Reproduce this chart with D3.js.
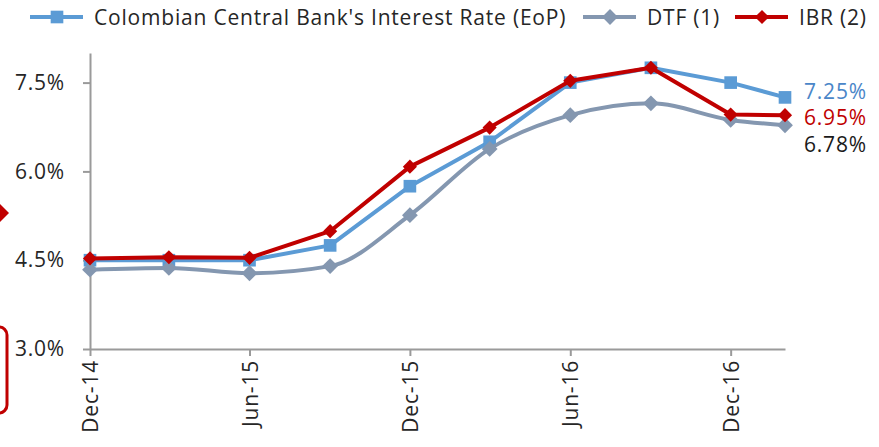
<!DOCTYPE html>
<html>
<head>
<meta charset="utf-8">
<script src="https://cdn.jsdelivr.net/npm/d3@7"></script>
<style>
  body { margin: 0; background: #fff; }
  svg { display: block; font-family: "Open Sans", sans-serif; }
</style>
</head>
<body>
<svg id="chart" width="879" height="447"></svg>
<script>
// Chart data (end of period, monthly date axis)
const months = ["2014-12", "2015-03", "2015-06", "2015-09", "2015-12", "2016-03", "2016-06", "2016-09", "2016-12", "2017-02"];
const cbRate = [4.5, 4.5, 4.5, 4.75, 5.75, 6.5, 7.5, 7.75, 7.5, 7.25];
const dtf = [4.34, 4.37, 4.28, 4.4, 5.26, 6.38, 6.95, 7.15, 6.87, 6.78];
const ibr = [4.53, 4.55, 4.54, 4.99, 6.08, 6.74, 7.53, 7.75, 6.96, 6.95];
const yTicks = [3.0, 4.5, 6.0, 7.5];
const xTickMonths = ["2014-12", "2015-06", "2015-12", "2016-06", "2016-12"];
const xTickLabels = ["Dec-14", "Jun-15", "Dec-15", "Jun-16", "Dec-16"];
const endLabels = ["7.25%", "6.78%", "6.95%"];

const parseMonth = d3.timeParse("%Y-%m");
const svg = d3.select("#chart");
const fontSize = 21;
const spacing = 0.8;
const textColor = "#262626";

const series = [
  { name: "Colombian Central Bank's Interest Rate (EoP)", values: cbRate, color: "#5b9bd5", marker: "square", size: 160, curve: d3.curveLinear, label: endLabels[0], labelColor: "#4a86c8", dy: -6 },
  { name: "DTF (1)", values: dtf, color: "#8497b0", marker: "diamond", size: 125, curve: d3.curveMonotoneX, label: endLabels[1], labelColor: "#1a1a1a", dy: 19 },
  { name: "IBR (2)", values: ibr, color: "#c00000", marker: "diamond", size: 100, curve: d3.curveLinear, label: endLabels[2], labelColor: "#c00000", dy: 2 },
];

// Scales
const x = d3
  .scaleTime()
  .domain([parseMonth(months[0]), parseMonth(months[months.length - 1])])
  .range([90, 785]);
const y = d3.scaleLinear().domain([3, 8]).range([349, 53]);

// Axes
const xAxis = svg
  .append("g")
  .attr("transform", "translate(0,349)")
  .call(
    d3
      .axisBottom(x)
      .tickValues(xTickMonths.map(parseMonth))
      .tickFormat((d, i) => xTickLabels[i])
      .tickSize(7)
      .tickSizeOuter(0)
  );
xAxis.select(".domain").attr("stroke", "#9a9a9a").attr("stroke-width", 2);
xAxis.selectAll(".tick line").attr("stroke", "#9a9a9a").attr("stroke-width", 2);
xAxis
  .selectAll(".tick text")
  .attr("transform", "rotate(-90)")
  .attr("text-anchor", "end")
  .attr("x", -11)
  .attr("y", 0)
  .attr("dy", "0.36em")
  .attr("fill", textColor)
  .attr("font-size", fontSize)
  .attr("letter-spacing", spacing)
  .attr("font-family", "'Open Sans', sans-serif");

const yAxis = svg
  .append("g")
  .attr("transform", "translate(90,0)")
  .call(
    d3
      .axisLeft(y)
      .tickValues(yTicks)
      .tickFormat((d) => d.toFixed(1) + "%")
      .tickSize(7)
      .tickSizeOuter(0)
  );
yAxis.select(".domain").attr("stroke", "#9a9a9a").attr("stroke-width", 2);
yAxis.selectAll(".tick text")
  .attr("x", -25)
  .attr("fill", textColor)
  .attr("font-size", fontSize)
  .attr("letter-spacing", spacing)
  .attr("font-family", "'Open Sans', sans-serif");
yAxis.selectAll(".tick line").attr("stroke", "#9a9a9a").attr("stroke-width", 2);

// Marker shapes: squares, and squares turned 45 degrees for diamonds
function markerPath(s) {
  return d3.symbol(d3.symbolSquare, s.size)();
}
function markerTurn(s) {
  return s.marker === "diamond" ? " rotate(45)" : "";
}

// Lines and markers
series.forEach((s) => {
  const pts = s.values.map((v, i) => [x(parseMonth(months[i])), y(v)]);
  const line = d3.line().curve(s.curve);

  svg
    .append("path")
    .attr("d", line(pts))
    .attr("fill", "none")
    .attr("stroke", s.color)
    .attr("stroke-width", 4)
    .attr("stroke-linejoin", "round");

  svg
    .append("g")
    .selectAll("path")
    .data(pts)
    .enter()
    .append("path")
    .attr("d", markerPath(s))
    .attr("transform", (d) => `translate(${d[0]},${d[1]})${markerTurn(s)}`)
    .attr("fill", s.color);

  // end-of-series label
  const last = pts[pts.length - 1];
  svg
    .append("text")
    .attr("x", last[0] + 19)
    .attr("y", last[1] + s.dy)
    .attr("dy", "0.36em")
    .attr("fill", s.labelColor)
    .attr("font-size", fontSize)
    .attr("letter-spacing", spacing)
    .text(s.label);
});

// Legend
const legendX = [30, 583, 735];
const legend = svg
  .append("g")
  .selectAll("g")
  .data(series)
  .enter()
  .append("g")
  .attr("transform", (d, i) => `translate(${legendX[i]},17)`);

legend
  .append("line")
  .attr("x1", 0)
  .attr("x2", 53)
  .attr("stroke", (d) => d.color)
  .attr("stroke-width", 4);

legend
  .append("path")
  .attr("d", (d) => markerPath(d))
  .attr("transform", (d) => `translate(27,0)${markerTurn(d)}`)
  .attr("fill", (d) => d.color);

legend
  .append("text")
  .attr("x", 64)
  .attr("dy", "0.36em")
  .attr("fill", textColor)
  .attr("font-size", fontSize)
  .attr("letter-spacing", spacing)
  .text((d) => d.name);

// Pieces of neighbouring slide shapes cut by the left edge
svg
  .append("path")
  .attr("d", "M0,204 L9,213 L0,222 L-9,213 Z")
  .attr("fill", "#c00000");
svg
  .append("rect")
  .attr("x", -20)
  .attr("y", 327)
  .attr("width", 27)
  .attr("height", 86)
  .attr("rx", 8)
  .attr("fill", "none")
  .attr("stroke", "#c00000")
  .attr("stroke-width", 3);
</script>
</body>
</html>
